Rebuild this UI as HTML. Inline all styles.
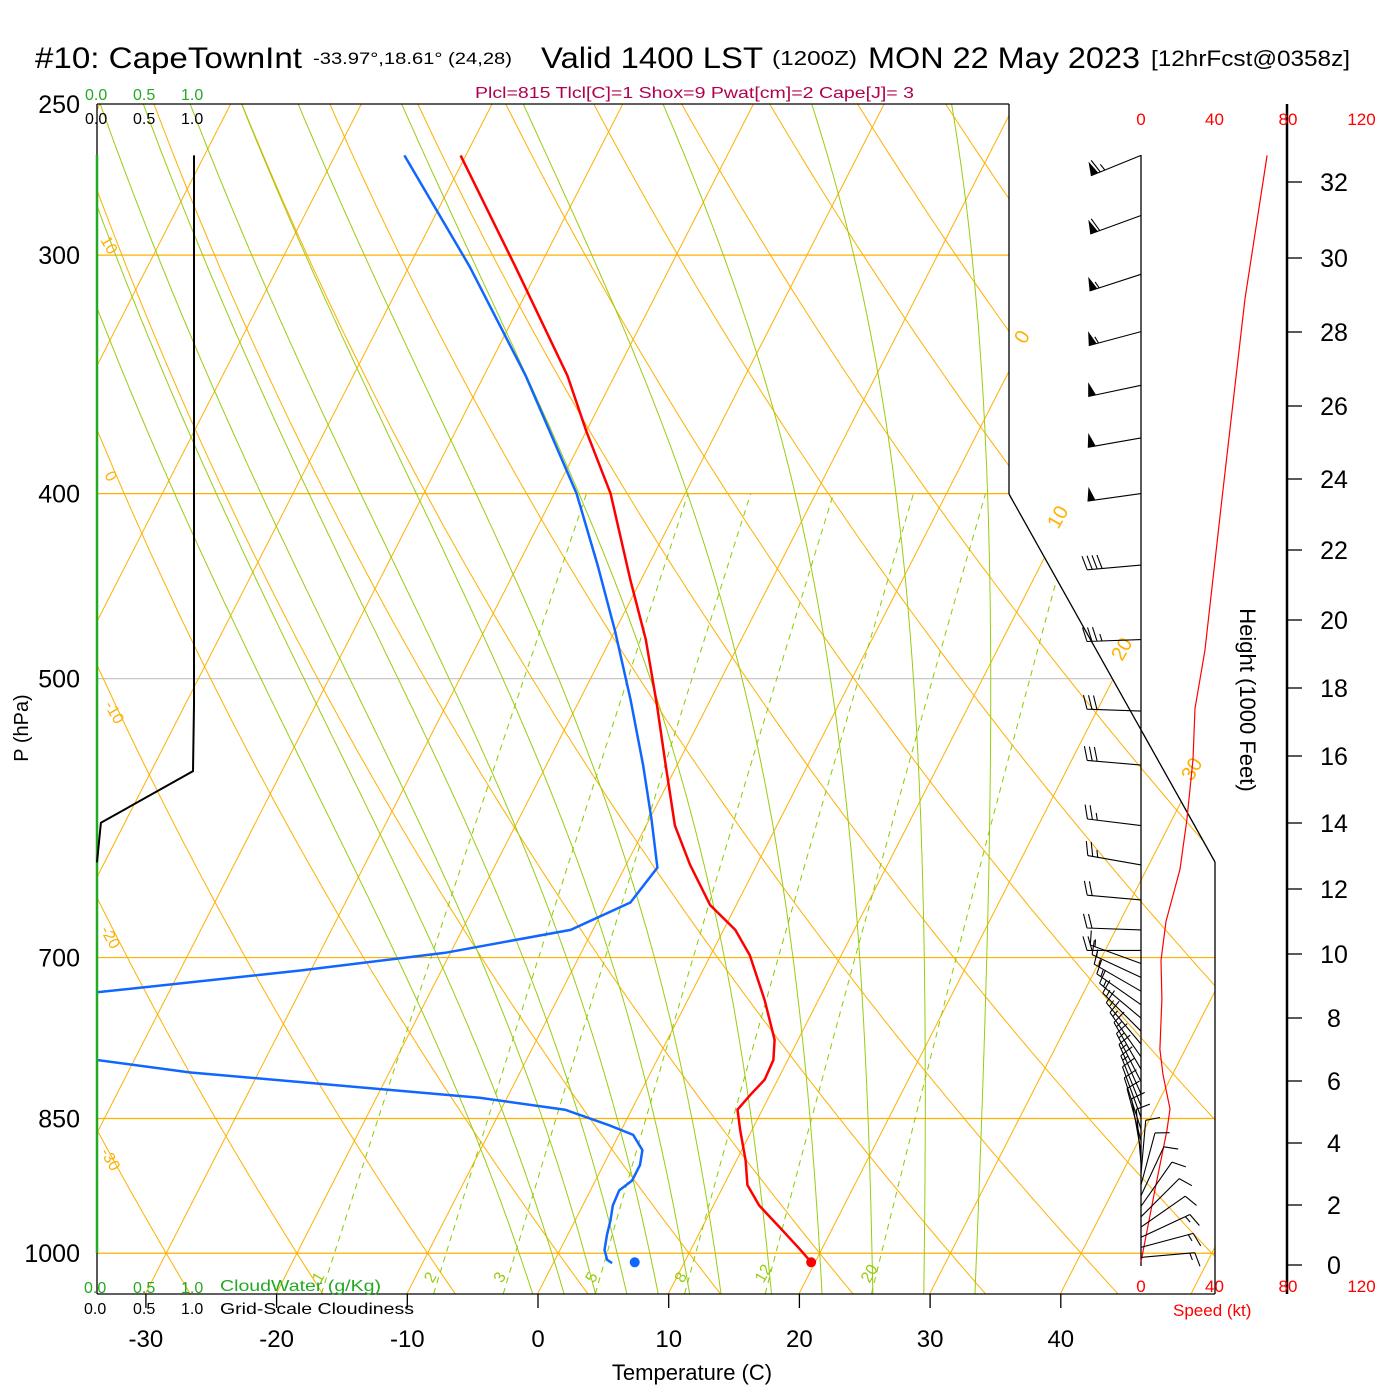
<!DOCTYPE html>
<html><head><meta charset="utf-8"><style>
html,body{margin:0;padding:0;background:#fff;}
svg{display:block;font-family:"Liberation Sans",Arial,sans-serif;}
</style></head><body>
<svg id="chart" width="1400" height="1400" viewBox="0 0 1400 1400" xmlns="http://www.w3.org/2000/svg">
<defs>
<clipPath id="plotClip"><polygon points="97,104 1009,104 1009,494 1215,862 1215,1294 97,1294"/></clipPath>
</defs>
<g id="bg" clip-path="url(#plotClip)"></g>
<g id="data" clip-path="url(#plotClip)"></g>
<g id="frame"></g>
<g id="labels">
<text x="35" y="68" font-size="30" textLength="267" lengthAdjust="spacingAndGlyphs">#10: CapeTownInt</text>
<text x="313" y="64" font-size="17" textLength="199" lengthAdjust="spacingAndGlyphs">-33.97°,18.61° (24,28)</text>
<text x="541" y="68" font-size="30" textLength="222" lengthAdjust="spacingAndGlyphs">Valid 1400 LST</text>
<text x="772" y="65" font-size="20" textLength="85" lengthAdjust="spacingAndGlyphs">(1200Z)</text>
<text x="868" y="68" font-size="30" textLength="272" lengthAdjust="spacingAndGlyphs">MON 22 May 2023</text>
<text x="1151" y="66" font-size="22" textLength="199" lengthAdjust="spacingAndGlyphs">[12hrFcst@0358z]</text>
<text x="475" y="98" font-size="16" fill="#b0004f" textLength="439" lengthAdjust="spacingAndGlyphs">Plcl=815 Tlcl[C]=1 Shox=9 Pwat[cm]=2 Cape[J]= 3</text>
<g font-size="16" fill="#22aa22">
<text x="85" y="100">0.0</text>
<text x="133" y="100">0.5</text>
<text x="181" y="100">1.0</text>
<text x="84" y="1293">0.0</text>
<text x="133" y="1293">0.5</text>
<text x="181" y="1293">1.0</text>
<text x="220" y="1291" textLength="161" lengthAdjust="spacingAndGlyphs">CloudWater (g/Kg)</text>
</g>
<g font-size="16" fill="#000">
<text x="85" y="124">0.0</text>
<text x="133" y="124">0.5</text>
<text x="181" y="124">1.0</text>
<text x="84" y="1314">0.0</text>
<text x="133" y="1314">0.5</text>
<text x="181" y="1314">1.0</text>
<text x="220" y="1314" textLength="194" lengthAdjust="spacingAndGlyphs">Grid-Scale Cloudiness</text>
</g>
<text transform="translate(28,728) rotate(-90)" text-anchor="middle" font-size="20">P (hPa)</text>
<text x="692" y="1380" text-anchor="middle" font-size="22">Temperature (C)</text>
<text transform="translate(1240,700) rotate(90)" text-anchor="middle" font-size="22">Height (1000 Feet)</text>
<text x="1173" y="1316" font-size="17" fill="#ff0000">Speed (kt)</text>
</g>
</svg>
<script>
// ---- data ----
const tempP = [266,304,347,371,400,444,477,516,552,597,626,657,677,698,737,773,792,811,826,841,862,894,921,944,970,996,1011];
const tempT = [-50.4,-41.9,-33.6,-30.0,-25.7,-20.8,-17.3,-13.9,-11.1,-7.8,-5.1,-2.0,0.9,3.0,5.9,8.2,8.9,9.0,8.5,8.1,9.1,10.7,11.8,13.5,16.0,18.4,19.7];
const dewP = [266,304,347,371,400,436,472,513,555,593,628,655,677,696,711,730,760,792,804,829,841,857,867,883,899,916,927,944,961,978,996,1008,1012];
const dewT = [-54.7,-45.4,-36.8,-32.8,-28.3,-23.9,-20.0,-16.1,-12.6,-9.8,-7.5,-8.2,-11.7,-20.4,-30.8,-45.5,-75,-42.9,-35.3,-12.1,-5.1,-1.1,1.1,2.4,2.8,2.8,2.2,2.3,2.7,3.0,3.4,4.0,4.5];
const sfcP = 1011, sfcT = 19.7, sfcTd = 6.2;
const cloudP = [266,516,559,595,624];
const cloudFrac = [1.0,1.0,0.99,0.04,0.0];
const spdH = [0.1,2.5,4.4,5.1,6.2,7.0,8.6,9.8,11.0,12.6,14.1,15.9,17.4,19.1,23.4,28.9,32.7];
const spdKt = [0,7.6,14.1,15.8,12,10.3,11.4,10.9,13.6,21.2,25,28.3,29.4,34.8,44,56.6,68.6];
const barbP = [266,286,307,329,351,374,400,436,477,520,555,597,626,653,677,694,705,717,729,741,753,765,777,789,801,813,825,837,849,861,873,885,897,909,921,933,945,957,969,981,993,1005];
const barbDir = [248,250,252,255,258,260,262,265,268,272,275,277,280,275,272,270,290,295,300,305,310,315,320,325,330,333,336,338,340,342,345,350,355,5,15,25,35,45,55,65,75,85];
const barbSpd = [65,60,55,55,52,50,50,40,35,30,30,25,25,20,20,20,15,15,15,15,15,15,15,15,15,15,15,15,12,10,10,10,10,8,8,10,10,12,12,15,15,15];
const tempTicks = [-30,-20,-10,0,10,20,30,40];
const presTicks = [250,300,400,500,700,850,1000];
const heightTicks = [0,2,4,6,8,10,12,14,16,18,20,22,24,26,28,30,32];
const heightTickPx = [1265,1205,1143,1081,1018,954,889,823,756,688,620,550,479,406,332,258,182];
const speedTicks = [0,40,80,120];
const mixW = [1,2,3,5,8,12,20];
const mwStartT = [-3,-0.5,2,4.5,7,9.5,12,16,20,24,28,32];
const dryTheta = [-40,-30,-20,-10,0,10,20,30,40,50,60,70,80,90,100,110,120,130,140,150];
const isoT = [-130,-120,-110,-100,-90,-80,-70,-60,-50,-40,-30,-20,-10,0,10,20,30,40,50];

// ---- axes ----
const NS='http://www.w3.org/2000/svg';
function Y(p){return 104+829*Math.log(p/250);}
function X(T,p){return 538+13.07*T+0.511*(1293-Y(p));}
function spdX(s){return 1141+s*73.5/40;}
function hY(h){let i=Math.min(Math.floor(h/2),heightTickPx.length-2);const f=(h-heightTicks[i])/2;return heightTickPx[i]+(heightTickPx[i+1]-heightTickPx[i])*f;}
function mk(tag,attrs,parent){const e=document.createElementNS(NS,tag);for(const k in attrs)e.setAttribute(k,attrs[k]);parent.appendChild(e);return e;}
const bg=document.getElementById('bg'),dat=document.getElementById('data'),frame=document.getElementById('frame'),lab=document.getElementById('labels');
function pathFrom(pts){return 'M'+pts.map(q=>q[0].toFixed(1)+','+q[1].toFixed(1)).join('L');}
const pressSteps=[];for(let p=1050;p>=245;p-=5)pressSteps.push(p);

presTicks.forEach(p=>{
  if(p===250)return;
  const l=mk('line',{x1:97,x2:1215,y1:Y(p),y2:Y(p),stroke:p===500?'#c8c8c8':'#ffb000','stroke-width':1.2},bg);
  
  
});
isoT.forEach(T=>{
  const l=mk('line',{x1:X(T,1050),y1:Y(1050),x2:X(T,245),y2:Y(245),stroke:'#ffb000','stroke-width':1},bg);
  
  
});
dryTheta.forEach(th=>{
  const pts=pressSteps.map(p=>{const T=(th+273.15)*Math.pow(p/1000,0.2857)-273.15;return [X(T,p),Y(p)];});
  const e=mk('path',{d:pathFrom(pts),fill:'none',stroke:'#ffb000','stroke-width':1},bg);
  
  
});
function es(Tc){return 6.112*Math.exp(17.67*Tc/(Tc+243.5));}
function moistRate(Tk,p){const e=es(Tk-273.15);const rs=0.622*e/(p-e);return (287*Tk+2.5e6*rs)/(p*(1004+2.5e6*2.5e6*rs*0.622/(287*Tk*Tk)));}
mwStartT.forEach(T0=>{
  const up=[];let Tk=T0+273.15;
  for(let p=1000;p>=250;p-=2){up.push([X(Tk-273.15,p),Y(p)]);Tk-=moistRate(Tk,p)*2;}
  const dn=[];Tk=T0+273.15;
  for(let p=1000;p<=1050;p+=2){dn.push([X(Tk-273.15,p),Y(p)]);Tk+=moistRate(Tk,p)*2;}
  const pts=dn.reverse().concat(up);
  const e=mk('path',{d:pathFrom(pts),fill:'none',stroke:'#99cc11','stroke-width':1},bg);
  
  
});
mixW.forEach(w=>{
  const pts=[];
  for(let p=1050;p>=400;p-=10){const e=w*p/(622+w);const a=Math.log(e/6.112);const Td=243.5*a/(17.67-a);pts.push([X(Td,p),Y(p)]);}
  const e=mk('path',{d:pathFrom(pts),fill:'none',stroke:'#88cc00','stroke-width':1,'stroke-dasharray':'6,5'},bg);
  
  
  const a=Math.log((w*1030/(622+w))/6.112);const Td=243.5*a/(17.67-a);
  const t=mk('text',{x:X(Td,1030)-6,y:Y(1030)+6,'font-size':16,fill:'#99cc11',transform:'rotate(-60 '+(X(Td,1030)-6)+' '+(Y(1030)+6)+')'},lab);
  t.textContent=w;
  
  
});
[[0,1025,345],[10,1058,530],[20,1122,662],[30,1192,782]].forEach(a=>{
  const t=mk('text',{x:a[1],y:a[2],'font-size':20,fill:'#ffb000',transform:'rotate(-60 '+a[1]+' '+a[2]+')'},lab);
  t.textContent=a[0];
  
  
});
[[10,100,240],[0,104,475],[-10,104,705],[-20,100,930],[-30,100,1152]].forEach(a=>{
  const t=mk('text',{x:a[1],y:a[2],'font-size':16,fill:'#ffb000',transform:'rotate(60 '+a[1]+' '+a[2]+')'},lab);
  t.textContent=a[0];
  
  
});

const tp=mk('path',{d:pathFrom(tempP.map((p,i)=>[X(tempT[i],p),Y(p)])),fill:'none',stroke:'#ff0000','stroke-width':2.5},dat);


const dp=mk('path',{d:pathFrom(dewP.map((p,i)=>[X(dewT[i],p),Y(p)])),fill:'none',stroke:'#1166ff','stroke-width':2.5},dat);


const c1=mk('circle',{cx:X(sfcT,sfcP),cy:Y(sfcP),r:5,fill:'#ff0000'},dat);


const c2=mk('circle',{cx:X(sfcTd,sfcP),cy:Y(sfcP),r:5,fill:'#1166ff'},dat);



[[97,104,1009,104],[1009,104,1009,494],[1009,494,1215,862],[1215,862,1215,1294],[97,1294,1215,1294],[97,104,97,1294],[1141,155,1141,1266],[1287,104,1287,1294]].forEach(s=>{
  const l=mk('line',{x1:s[0],y1:s[1],x2:s[2],y2:s[3],stroke:'#000','stroke-width':s[0]===1287?2.5:1.3},frame);
  
  
});
const gl=mk('line',{x1:97,y1:155,x2:97,y2:1253,stroke:'#22aa22','stroke-width':2.5},frame);


const cl=mk('path',{d:pathFrom(cloudP.map((p,i)=>[97+cloudFrac[i]*97,Y(p)])),fill:'none',stroke:'#000','stroke-width':2},frame);



tempTicks.forEach(T=>{
  const x=538+13.07*T;
  const l=mk('line',{x1:x,x2:x,y1:1294,y2:1308,stroke:'#000','stroke-width':1.3},frame);
  
  
  const t=mk('text',{x:x,y:1347,'text-anchor':'middle','font-size':24},lab);
  t.textContent=T;
  
  
});
presTicks.forEach(p=>{
  const t=mk('text',{x:80,y:Y(p)+9,'text-anchor':'end','font-size':25},lab);
  t.textContent=p;
  
  
});
heightTicks.forEach((h,i)=>{
  const y=hY(h);
  const l=mk('line',{x1:1287,x2:1302,y1:y,y2:y,stroke:'#000','stroke-width':1.3},frame);
  
  
  const t=mk('text',{x:1334,y:y+9,'text-anchor':'middle','font-size':25},lab);
  t.textContent=h;
  
  
});
speedTicks.forEach(s=>{
  [125,1292].forEach(yy=>{
    const t=mk('text',{x:spdX(s),y:yy,'text-anchor':'middle','font-size':17,fill:'#ff0000'},lab);
    t.textContent=s;
    
    
  });
});
const sp=mk('path',{d:pathFrom(spdH.map((h,i)=>[spdX(spdKt[i]),hY(h)])),fill:'none',stroke:'#ff0000','stroke-width':1.2},dat.parentNode);



const bgrp=mk('g',{},dat.parentNode);


barbP.forEach((p,i)=>{
  const th=barbDir[i]*Math.PI/180;
  const dx=Math.sin(th),dy=-Math.cos(th);
  const px=-dy,py=dx;
  const x0=1141,y0=Y(p),L=54;
  const tx=x0+dx*L,ty=y0+dy*L;
  let d='M'+x0+','+y0.toFixed(1)+'L'+tx.toFixed(1)+','+ty.toFixed(1);
  let s=Math.round(barbSpd[i]/5)*5,pos=0,fill='';
  while(s>=50){const bx=tx-dx*pos,by=ty-dy*pos;fill+='M'+bx.toFixed(1)+','+by.toFixed(1)+'L'+(bx+px*14-dx*3).toFixed(1)+','+(by+py*14-dy*3).toFixed(1)+'L'+(bx-dx*8).toFixed(1)+','+(by-dy*8).toFixed(1)+'Z';pos+=10;s-=50;}
  while(s>=10){const bx=tx-dx*pos,by=ty-dy*pos;d+='M'+bx.toFixed(1)+','+by.toFixed(1)+'l'+(px*14+dx*4).toFixed(1)+','+(py*14+dy*4).toFixed(1);pos+=5;s-=10;}
  if(s>=5){if(pos===0)pos=5;const bx=tx-dx*pos,by=ty-dy*pos;d+='M'+bx.toFixed(1)+','+by.toFixed(1)+'l'+(px*7+dx*2).toFixed(1)+','+(py*7+dy*2).toFixed(1);}
  const b=mk('path',{d:d,fill:'none',stroke:'#000','stroke-width':1.1},bgrp);
  
  
  if(fill){const f=mk('path',{d:fill,fill:'#000'},bgrp);
    
    }
});
</script>
</body></html>
